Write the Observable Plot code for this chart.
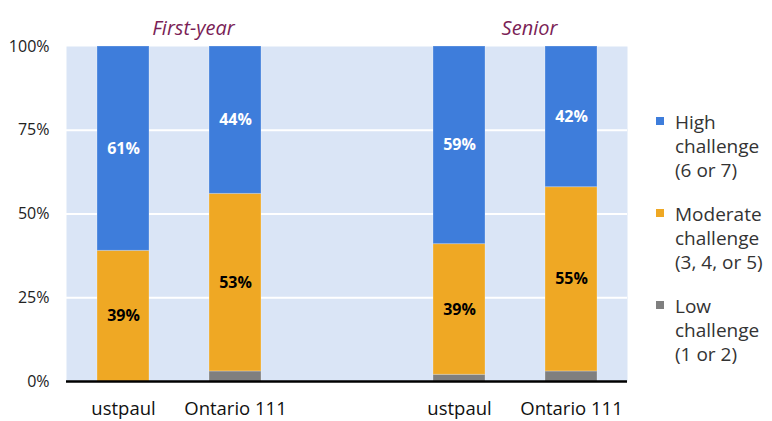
<!DOCTYPE html>
<html>
<head>
<meta charset="utf-8">
<script src="https://cdn.jsdelivr.net/npm/d3@7"></script>
<script src="https://cdn.jsdelivr.net/npm/@observablehq/plot@0.6"></script>
<style>
  body { margin: 0; background: #fff; }
  #wrap { position: relative; width: 772px; height: 421px; font-family: "Open Sans", sans-serif; overflow: hidden; }
  #legend { position: absolute; left: 656px; top: 110px; color: #333; font-size: 19px; line-height: 24px; }
  .entry { display: flex; align-items: flex-start; margin-bottom: 20px; }
  .sw { width: 8px; height: 8px; margin-top: 7px; margin-right: 11px; flex: none; }
</style>
</head>
<body>
<div id="wrap"><div id="legend"></div></div>
<script>
// ---- data ----
const groups = ["First-year", "First-year", "Senior", "Senior"];
const schools = ["ustpaul", "Ontario 111", "ustpaul", "Ontario 111"];
const low = [0, 3, 2, 3];
const moderate = [39, 53, 39, 55];
const high = [61, 44, 59, 42];
const levels = ["Low", "Moderate", "High"];
const levelColors = ["#7f7f7f", "#efa824", "#3e7ddb"];
const legendLines = {
  High: ["High", "challenge", "(6 or 7)"],
  Moderate: ["Moderate", "challenge", "(3, 4, or 5)"],
  Low: ["Low", "challenge", "(1 or 2)"]
};
const yTicks = [0, 0.25, 0.5, 0.75, 1];
const gridTicks = [0.25, 0.5, 0.75];

// ---- derived table ----
const keys = schools.map((s, i) => groups[i] + "|" + s);
const xDomain = [keys[0], keys[1], "gap", keys[2], keys[3]];
const rows = keys.flatMap((k, i) => [
  {key: k, level: "Low", value: low[i] / 100},
  {key: k, level: "Moderate", value: moderate[i] / 100},
  {key: k, level: "High", value: high[i] / 100}
]);
const titles = [
  {key: keys[0], label: "First-year"},
  {key: keys[2], label: "Senior"}
];

const chart = Plot.plot({
  width: 640,
  height: 421,
  marginLeft: 66,
  marginRight: 13,
  marginTop: 46,
  marginBottom: 40,
  style: {fontFamily: "Open Sans, sans-serif", background: "transparent"},
  x: {domain: xDomain, paddingInner: 0.536, paddingOuter: 0.268, label: null},
  y: {domain: [0, 1], label: null},
  color: {domain: levels, range: levelColors},
  marks: [
    Plot.frame({fill: "#dae5f6", stroke: null}),
    Plot.ruleY(gridTicks, {stroke: "white", strokeWidth: 2}),
    Plot.barY(rows, {x: "key", y: "value", fill: "level", order: levels, z: "level",
      stroke: "white", strokeOpacity: 0.25, strokeWidth: 1}),
    Plot.text(rows, Plot.stackY({
      x: "key", y: "value", z: "level", order: levels,
      text: d => d.level === "Low" ? "" : Math.round(d.value * 100) + "%",
      fill: d => d.level === "High" ? "white" : "black",
      fontWeight: "bold", fontSize: 16
    })),
    Plot.ruleY([0], {stroke: "black", strokeWidth: 2.5}),
    Plot.axisY({ticks: yTicks, tickFormat: d3.format(".0%"), tickSize: 0, tickPadding: 17, fontSize: 16, label: null, color: "#222"}),
    Plot.axisX({tickSize: 0, tickPadding: 20, fontSize: 18.5, label: null, color: "#111",
      tickFormat: d => d === "gap" ? "" : d.split("|")[1]}),
    Plot.text(titles, {x: "key", text: "label", frameAnchor: "top", dy: -26, dx: 70,
      fill: "#7b1f57", fontStyle: "italic", fontSize: 20})
  ]
});
chart.style.position = "absolute";
chart.style.left = "0px";
chart.style.top = "0px";
document.getElementById("wrap").appendChild(chart);

const legend = document.getElementById("legend");
["High", "Moderate", "Low"].forEach(l => {
  const e = document.createElement("div");
  e.className = "entry";
  const sw = document.createElement("div");
  sw.className = "sw";
  sw.style.background = levelColors[levels.indexOf(l)];
  const t = document.createElement("div");
  t.innerHTML = legendLines[l].join("<br>");
  e.appendChild(sw); e.appendChild(t);
  legend.appendChild(e);
});
</script>
</body>
</html>
